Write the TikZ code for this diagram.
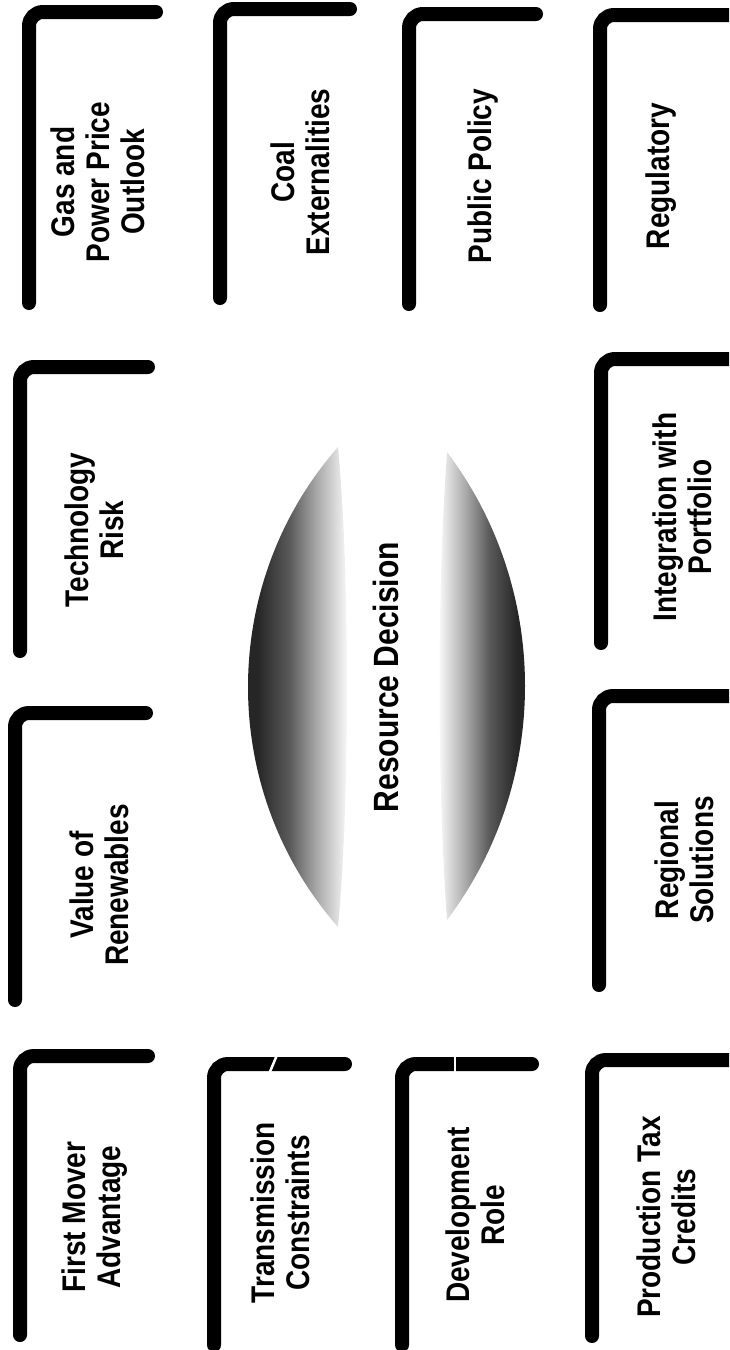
\documentclass[tikz,border=0pt]{standalone}
\usepackage{fontspec}
\setmainfont{Liberation Sans}
\usepackage{tikz}
\pgfdeclarehorizontalshading{lensfadeleft}{100bp}{color(0bp)=(black!85); color(25bp)=(black!85); color(40bp)=(black!85); color(52bp)=(black!65); color(62bp)=(black!35); color(75bp)=(white); color(100bp)=(white)}
\pgfdeclarehorizontalshading{lensfaderight}{100bp}{color(0bp)=(white); color(25bp)=(white); color(38bp)=(black!35); color(48bp)=(black!65); color(60bp)=(black!85); color(75bp)=(black!85); color(100bp)=(black!85)}

\begin{document}
\begin{tikzpicture}[
  x=1pt, y=-1pt,
  factor/.style={rotate=90,yscale=1.17,align=center,inner sep=0pt,font=\fontsize{28}{30}\selectfont\bfseries},
  bracket/.style={line width=14pt,rounded corners=14pt,line cap=round},
  gapline/.style={draw=white,line width=2.5pt},
  lensleft/.style={shading=lensfadeleft},
  lensright/.style={shading=lensfaderight}
]
\useasboundingbox (0,0) rectangle (729,1350);
\clip (0,0) rectangle (729,1350);

% centre: two shaded lenses and the decision
\shade[lensleft] (338,447) .. controls (218,584) and (218,790) .. (338,927)
  .. controls (350,800) and (350,574) .. (338,447);
\shade[lensright] (447,452) .. controls (551,590) and (551,782) .. (447,920)
  .. controls (437,782) and (437,590) .. (447,452);
\node[factor,font=\fontsize{30}{32}\selectfont\bfseries] (decision) at (386,677) {Resource Decision};

% top row
\node[factor] (gas) at (98,182) {Gas and\\Power Price\\Outlook};
\draw[bracket] (29,303) |- (156,12);
\node[factor] (coal) at (300,172) {Coal\\Externalities};
\draw[bracket] (220,298) |- (350,9);
\node[factor] (policy) at (483,176) {Public Policy};
\draw[bracket] (409,304) |- (536,14);
\node[factor] (regulatory) at (661,176) {Regulatory};
\draw[bracket] (600,305) |- (745,15);

% middle rows
\node[factor] (techrisk) at (94,530) {Technology\\Risk};
\draw[bracket] (20,651) |- (148,367);
\node[factor] (integration) at (682,517) {Integration with\\Portfolio};
\draw[bracket] (601,643) |- (745,359);
\node[factor] (renewables) at (99,885) {Value of\\Renewables};
\draw[bracket] (15,1000) |- (146,713);
\node[factor] (regional) at (684,860) {Regional\\Solutions};
\draw[bracket] (599,985) |- (745,696);

% bottom row
\node[factor] (firstmover) at (95,1217) {First Mover\\Advantage};
\draw[bracket] (20,1335) |- (148,1056);
\node[factor] (transmission) at (280,1213) {Transmission\\Constraints};
\draw[bracket] (214,1345) |- (345,1064);
\draw[gapline] (277,1055) -- (269,1074);
\node[factor] (development) at (475,1215) {Development\\Role};
\draw[bracket] (402,1345) |- (532,1064);
\draw[gapline] (455,1055) -- (455,1074);
\node[factor] (production) at (666,1217) {Production Tax\\Credits};
\draw[bracket] (592,1336) |- (745,1060);
\end{tikzpicture}
\end{document}
